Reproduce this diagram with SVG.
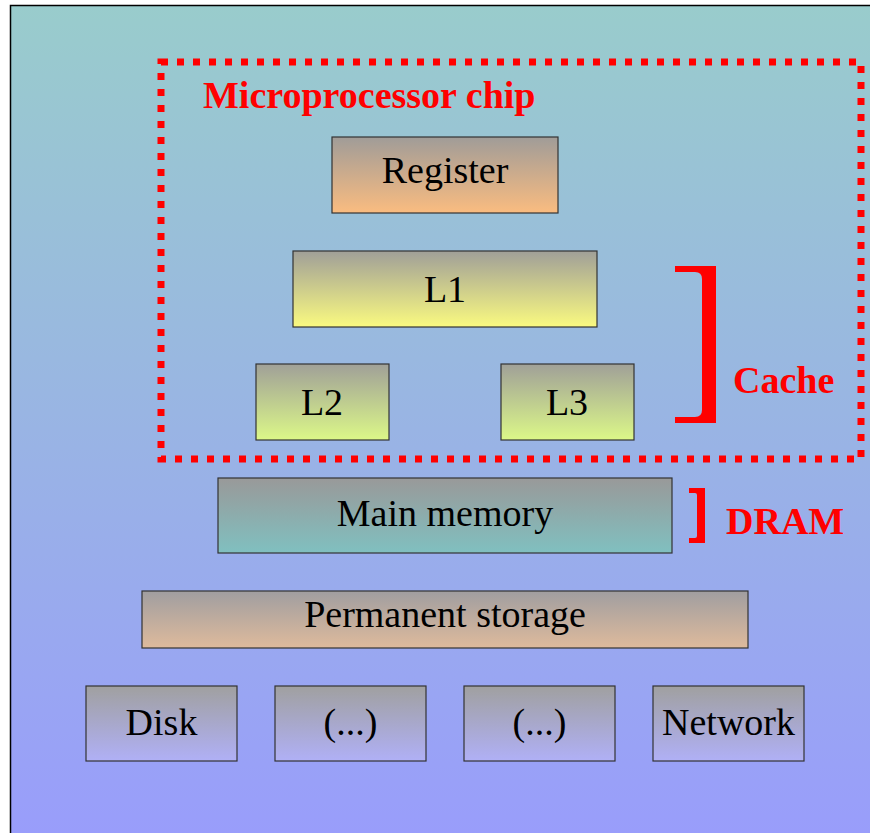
<svg xmlns="http://www.w3.org/2000/svg" width="870" height="833" viewBox="0 0 870 833">
<defs>
<linearGradient id="bg" x1="0" y1="0" x2="0" y2="1"><stop offset="0" stop-color="#99cccc"/><stop offset="1" stop-color="#9999ff"/></linearGradient>
<linearGradient id="gReg" x1="0" y1="0" x2="0" y2="1"><stop offset="0" stop-color="#a09c98"/><stop offset="1" stop-color="#fabc80"/></linearGradient>
<linearGradient id="gL1" x1="0" y1="0" x2="0" y2="1"><stop offset="0" stop-color="#a09f98"/><stop offset="1" stop-color="#fafa80"/></linearGradient>
<linearGradient id="gL23" x1="0" y1="0" x2="0" y2="1"><stop offset="0" stop-color="#a0a098"/><stop offset="1" stop-color="#dcf888"/></linearGradient>
<linearGradient id="gMain" x1="0" y1="0" x2="0" y2="1"><stop offset="0" stop-color="#999999"/><stop offset="1" stop-color="#80c0c0"/></linearGradient>
<linearGradient id="gPerm" x1="0" y1="0" x2="0" y2="1"><stop offset="0" stop-color="#a09ea0"/><stop offset="1" stop-color="#deba9c"/></linearGradient>
<linearGradient id="gDev" x1="0" y1="0" x2="0" y2="1"><stop offset="0" stop-color="#a0a0a0"/><stop offset="1" stop-color="#b0b0f6"/></linearGradient>
</defs>
<style>
.box{stroke:#333333;stroke-width:1.2}
.t{font-family:"Liberation Serif","Times New Roman",serif;font-size:38px;fill:#000;text-anchor:middle}
.r{font-family:"Liberation Serif","Times New Roman",serif;font-size:38px;font-weight:bold;fill:#ff0000}
</style>
<rect x="0" y="0" width="870" height="833" fill="#ffffff"/>
<rect x="10.5" y="5.5" width="900" height="900" fill="url(#bg)" stroke="#000" stroke-width="1.5"/>
<g id="chip">
<rect x="161" y="62" width="700" height="397" fill="none" stroke="#ff0000" stroke-width="7" stroke-dasharray="7 9"/>
<text class="r" x="203" y="108">Microprocessor chip</text>
</g>
<g id="register"><rect class="box" x="332" y="137" width="226" height="76" fill="url(#gReg)"/><text class="t" x="445" y="183">Register</text></g>
<g id="l1"><rect class="box" x="293" y="251" width="304" height="76" fill="url(#gL1)"/><text class="t" x="445" y="302">L1</text></g>
<g id="l2"><rect class="box" x="256" y="364" width="133" height="76" fill="url(#gL23)"/><text class="t" x="322" y="415">L2</text></g>
<g id="l3"><rect class="box" x="501" y="364" width="133" height="76" fill="url(#gL23)"/><text class="t" x="567" y="415">L3</text></g>
<g id="cache">
<path d="M675,266 H716 V423 H675 V417 H695 Q702,417 702,410 V279 Q702,272 695,272 H675 Z" fill="#ff0000"/>
<text class="r" x="733" y="393">Cache</text>
</g>
<g id="mainmemory"><rect class="box" x="218" y="478" width="454" height="75" fill="url(#gMain)"/><text class="t" x="445" y="526">Main memory</text></g>
<g id="dram">
<path d="M689,488 H705 V543 H689 V538 H695 Q697,538 697,536 V495 Q697,493 695,493 H689 Z" fill="#ff0000"/>
<text class="r" x="726" y="534">DRAM</text>
</g>
<g id="permanent"><rect class="box" x="142" y="591" width="606" height="57" fill="url(#gPerm)"/><text class="t" x="445" y="627">Permanent storage</text></g>
<g id="disk"><rect class="box" x="86" y="686" width="151" height="75" fill="url(#gDev)"/><text class="t" x="161.5" y="735">Disk</text></g>
<g id="other1"><rect class="box" x="275" y="686" width="151" height="75" fill="url(#gDev)"/><text class="t" x="350.5" y="735">(...)</text></g>
<g id="other2"><rect class="box" x="464" y="686" width="151" height="75" fill="url(#gDev)"/><text class="t" x="539.5" y="735">(...)</text></g>
<g id="network"><rect class="box" x="653" y="686" width="151" height="75" fill="url(#gDev)"/><text class="t" x="728.5" y="735">Network</text></g>
</svg>
